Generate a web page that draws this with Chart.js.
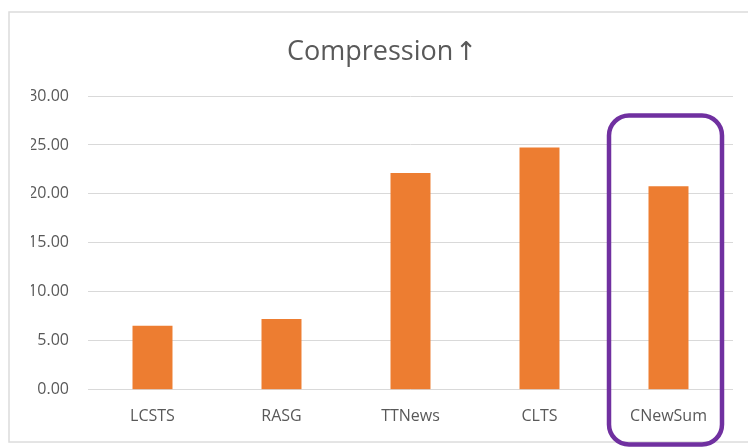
<!DOCTYPE html>
<html>
<head>
<meta charset="utf-8">
<script src="https://cdn.jsdelivr.net/npm/chart.js@4.4.1/dist/chart.umd.min.js"></script>
<style>
  html, body { margin: 0; padding: 0; background: #ffffff; }
  #wrap { width: 748px; height: 447px; position: relative; }
</style>
</head>
<body>
<div id="wrap"><canvas id="c" width="748" height="447"></canvas></div>
<script>
const categories = ["LCSTS", "RASG", "TTNews", "CLTS", "CNewSum"];
const compression = [6.55, 7.24, 22.15, 24.74, 20.78];
const yTicks = [0, 5, 10, 15, 20, 25, 30];
const titleWord = "Compression";
const titleArrow = "\u2191";
const highlightIndex = 4;

const decor = {
  id: 'decor',
  beforeDraw(chart) {
    const ctx = chart.ctx;
    ctx.save();
    ctx.strokeStyle = '#dcdcdc';
    ctx.lineWidth = 1.5;
    ctx.strokeRect(9, 12, 760, 430);
    ctx.restore();
  },
  afterDraw(chart) {
    const ctx = chart.ctx;
    const xs = chart.scales.x, ys = chart.scales.y;
    // title
    ctx.save();
    ctx.fillStyle = '#595959';
    ctx.textBaseline = 'alphabetic';
    ctx.textAlign = 'left';
    ctx.font = "27px 'Open Sans'";
    const w = ctx.measureText(titleWord).width;
    const tx = 287, ty = 60;
    ctx.fillText(titleWord, tx, ty);
    ctx.font = "26px 'DejaVu Sans'";
    ctx.fillText(titleArrow, tx + w + 2, ty);
    ctx.restore();
    // highlight box
    const cx = xs.getPixelForValue(highlightIndex) - 3;
    const left = cx - 56.5, right = cx + 56.5;
    const top = ys.getPixelForValue(28.0);
    const bottom = chart.height - 2.5;
    ctx.save();
    ctx.strokeStyle = '#7030A0';
    ctx.lineWidth = 4.5;
    ctx.beginPath();
    ctx.roundRect(left, top, right - left, bottom - top, 20);
    ctx.stroke();
    ctx.restore();
  }
};

new Chart(document.getElementById('c'), {
  type: 'bar',
  data: {
    labels: categories,
    datasets: [{
      data: compression,
      backgroundColor: '#ED7D31',
      borderWidth: 0,
      categoryPercentage: 1.0,
      barPercentage: 0.31
    }]
  },
  options: {
    responsive: false,
    animation: false,
    devicePixelRatio: 1,
    layout: { padding: { left: 31, right: 15, top: 96, bottom: 4 } },
    plugins: {
      legend: { display: false },
      tooltip: { enabled: false },
      title: { display: false }
    },
    scales: {
      x: {
        grid: { display: false, drawTicks: false },
        border: { display: false },
        ticks: {
          color: '#595959',
          font: { family: "'Open Sans', sans-serif", size: 16 },
          padding: 17,
          maxRotation: 0
        }
      },
      y: {
        min: 0,
        max: 30,
        afterFit(scale) { scale.width = 57; },
        afterBuildTicks(scale) { scale.ticks = yTicks.map(v => ({ value: v })); },
        grid: { color: '#d9d9d9', lineWidth: 1, drawTicks: false },
        border: { display: false },
        ticks: {
          color: '#595959',
          font: { family: "'Open Sans', sans-serif", size: 16 },
          padding: 19,
          callback: v => Number(v).toFixed(2)
        }
      }
    }
  },
  plugins: [decor]
});
</script>
</body>
</html>
